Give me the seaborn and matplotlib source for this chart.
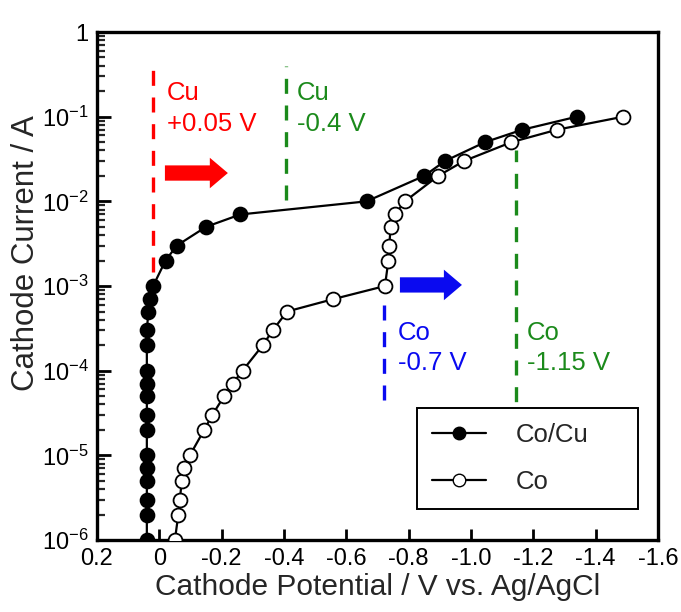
import matplotlib
matplotlib.use("Agg")
import matplotlib.pyplot as plt
import seaborn as sns
import numpy as np
import pandas as pd
from matplotlib.ticker import FixedLocator, FuncFormatter, LogLocator, NullFormatter
from matplotlib.lines import Line2D

# ---------------- data ----------------
cocu_potential = [0.04, 0.04, 0.04, 0.04, 0.04, 0.04, 0.04, 0.04, 0.04, 0.04, 0.04,
                  0.04, 0.04, 0.035, 0.03, 0.02, -0.02, -0.056, -0.15, -0.26,
                  -0.665, -0.85, -0.917, -1.045, -1.164, -1.34]
cocu_current = [1e-6, 2e-6, 3e-6, 5e-6, 7e-6, 1e-5, 2e-5, 3e-5, 5e-5, 7e-5, 1e-4,
                2e-4, 3e-4, 5e-4, 7e-4, 1e-3, 2e-3, 3e-3, 5e-3, 7e-3,
                1e-2, 2e-2, 3e-2, 5e-2, 7e-2, 1e-1]

co_potential = [-0.05, -0.061, -0.066, -0.072, -0.079, -0.098, -0.144, -0.17, -0.208,
                -0.235, -0.267, -0.332, -0.364, -0.41, -0.558, -0.724,
                -0.735, -0.738, -0.742, -0.756, -0.788, -0.895, -0.978, -1.13, -1.275, -1.489]
co_current = [1e-6, 2e-6, 3e-6, 5e-6, 7e-6, 1e-5, 2e-5, 3e-5, 5e-5,
              7e-5, 1e-4, 2e-4, 3e-4, 5e-4, 7e-4, 1e-3,
              2e-3, 3e-3, 5e-3, 7e-3, 1e-2, 2e-2, 3e-2, 5e-2, 7e-2, 1e-1]

series_labels = ["Co/Cu", "Co"]

# reference potential markers (dashed lines)
ref_potentials = [0.02, -0.405, -0.72, -1.143]
ref_low = [1.47e-3, 1.04e-2, 4.5e-5, 1.0e-5]
ref_high = [0.44, 0.40, 7.4e-4, 4.0e-2]
ref_colors = ["#ff0000", "#1b8a1b", "#0a0af0", "#1b8a1b"]
ref_element = ["Cu", "Cu", "Co", "Co"]
ref_text = ["+0.05 V", "-0.4 V", "-0.7 V", "-1.15 V"]
ref_text_x = [-0.025, -0.442, -0.766, -1.18]
ref_text_y1 = [0.19, 0.19, 2.79e-4, 2.79e-4]
ref_text_y2 = [0.082, 0.082, 1.24e-4, 1.24e-4]

x_ticks = [0.2, 0.0, -0.2, -0.4, -0.6, -0.8, -1.0, -1.2, -1.4, -1.6]
x_ticklabels = ["0.2", "0", "-0.2", "-0.4", "-0.6", "-0.8", "-1.0", "-1.2", "-1.4", "-1.6"]
y_ticks = [1e-6, 1e-5, 1e-4, 1e-3, 1e-2, 1e-1, 1]

# ---------------- style ----------------
sns.set_style("ticks")
plt.rcParams["font.family"] = ["Liberation Sans", "DejaVu Sans"]
plt.rcParams["mathtext.fontset"] = "custom"
plt.rcParams["mathtext.rm"] = "Liberation Sans"
plt.rcParams["mathtext.it"] = "Liberation Sans:italic"
plt.rcParams["axes.unicode_minus"] = False

fig = plt.figure(figsize=(6.81, 6.12), dpi=100)
ax = fig.add_axes([0.1424, 0.1176, 0.8238, 0.8301])

df1 = pd.DataFrame({"x": cocu_potential, "y": cocu_current})
df2 = pd.DataFrame({"x": co_potential, "y": co_current})

sns.lineplot(data=df1, x="x", y="y", ax=ax, sort=False, estimator=None,
             color="black", lw=1.6,
             marker="o", markersize=10, markerfacecolor="black",
             markeredgecolor="black", markeredgewidth=1.3, zorder=4)
sns.lineplot(data=df2, x="x", y="y", ax=ax, sort=False, estimator=None,
             color="black", lw=1.6,
             marker="o", markersize=10, markerfacecolor="white",
             markeredgecolor="black", markeredgewidth=1.3, zorder=4)

# dashed reference lines and labels
for xv, lo, hi, c, el, t, tx, ty1, ty2 in zip(ref_potentials, ref_low, ref_high, ref_colors,
                                             ref_element, ref_text, ref_text_x,
                                             ref_text_y1, ref_text_y2):
    ax.plot([xv, xv], [lo, hi], color=c, lw=2.4, ls=(0, (4.5, 3.5)), zorder=3)
    ax.text(tx, ty1, el, color=c, fontsize=18.5, ha="left", va="center")
    ax.text(tx, ty2, t, color=c, fontsize=18.5, ha="left", va="center")

# arrows
arrow_style = "simple,head_length=13,head_width=22,tail_width=11"
ax.annotate("", xy=(-0.22, 0.0216), xytext=(-0.018, 0.0216),
            arrowprops=dict(arrowstyle=arrow_style, color="#ff0000", lw=0,
                            shrinkA=0, shrinkB=0, mutation_scale=1))
ax.annotate("", xy=(-0.971, 1.03e-3), xytext=(-0.772, 1.03e-3),
            arrowprops=dict(arrowstyle=arrow_style, color="#0a0af0", lw=0,
                            shrinkA=0, shrinkB=0, mutation_scale=1))

# axes
ax.set_yscale("log")
ax.set_xlim(0.2, -1.6)
ax.set_ylim(1e-6, 1)
ax.xaxis.set_major_locator(FixedLocator(x_ticks))
ax.set_xticklabels(x_ticklabels)
ax.yaxis.set_major_locator(FixedLocator(y_ticks))


def yfmt(v, pos):
    e = int(round(np.log10(v)))
    if e == 0:
        return "1"
    return r"$\mathregular{10^{%d}}$" % e


ax.yaxis.set_major_formatter(FuncFormatter(yfmt))
ax.yaxis.set_minor_locator(LogLocator(base=10, subs=np.arange(2, 10), numticks=20))
ax.yaxis.set_minor_formatter(NullFormatter())

ax.tick_params(axis="both", which="major", direction="in", length=10, width=2,
               labelsize=17, colors="black", pad=6)
ax.tick_params(axis="y", which="minor", direction="in", length=6, width=1.6)
ax.tick_params(axis="x", which="major", length=8)
for s in ax.spines.values():
    s.set_linewidth(2.4)
    s.set_color("black")
    s.set_visible(True)

ax.set_xlabel("Cathode Potential / V vs. Ag/AgCl", fontsize=21.5, labelpad=2)
ax.set_ylabel("Cathode Current / A", fontsize=22.5)
ax.yaxis.set_label_coords(-0.100, 0.565)

# legend
handles = [
    Line2D([], [], color="black", lw=1.6, marker="o", markersize=9,
           markerfacecolor="black", markeredgecolor="black"),
    Line2D([], [], color="black", lw=1.6, marker="o", markersize=9,
           markerfacecolor="white", markeredgecolor="black"),
]
leg = ax.legend(handles, series_labels, loc="lower left", mode="expand",
                bbox_to_anchor=(0.570, 0.061, 0.394, 0.197), borderaxespad=0,
                fontsize=18.5, frameon=True, fancybox=False, framealpha=1,
                edgecolor="black", handlelength=2.1, handletextpad=1.15,
                labelspacing=0.88, borderpad=0.59)
leg.get_frame().set_linewidth(1.4)
leg.set_zorder(5)

fig.savefig("out.png", dpi=100)
